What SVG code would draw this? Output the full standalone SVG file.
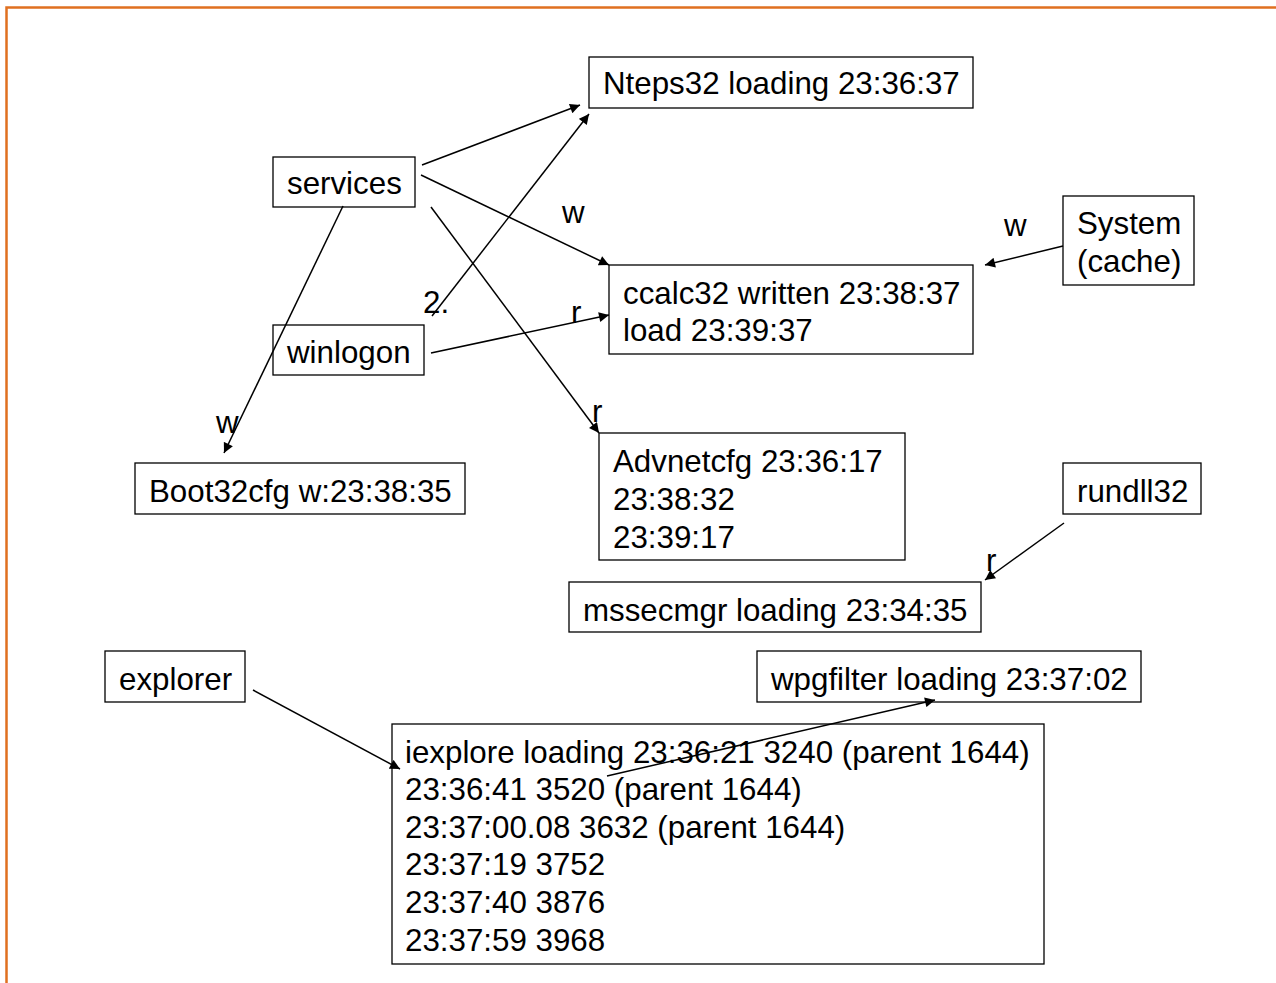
<svg xmlns="http://www.w3.org/2000/svg" width="1276" height="983" viewBox="0 0 1276 983">
<style>
  .box { fill: #fff; stroke: #000; stroke-width: 1.3; }
  .t { font-family: "Liberation Sans", Arial, sans-serif; font-size: 31.3px; fill: #000; }
  .c { stroke: #000; stroke-width: 1.5; fill: none; marker-end: url(#ah); }
</style>
<defs>
  <marker id="ah" viewBox="0 0 10 10" refX="10" refY="5" markerWidth="11" markerHeight="10" markerUnits="userSpaceOnUse" orient="auto">
    <path d="M0,0 L10,5 L0,10 z" fill="#000"/>
  </marker>
</defs>
<rect width="1276" height="983" fill="#fff"/>
<path d="M6.5,983 L6.5,7.5 L1276,7.5" fill="none" stroke="#E07020" stroke-width="2.5"/>

<g id="nteps32"><rect class="box" x="589" y="57" width="384" height="51"/><text class="t" x="603" y="94">Nteps32 loading 23:36:37</text></g>
<g id="services"><rect class="box" x="273" y="157" width="142" height="50"/><text class="t" x="287" y="194">services</text></g>
<g id="ccalc32"><rect class="box" x="609" y="265" width="364" height="89"/><text class="t" x="623" y="304">ccalc32 written 23:38:37</text><text class="t" x="623" y="341">load 23:39:37</text></g>
<g id="system"><rect class="box" x="1063" y="196" width="131" height="89"/><text class="t" x="1077" y="234">System</text><text class="t" x="1077" y="272">(cache)</text></g>
<g id="winlogon"><rect class="box" x="273" y="325" width="151" height="50"/><text class="t" x="287" y="363">winlogon</text></g>
<g id="boot32cfg"><rect class="box" x="135" y="463" width="330" height="51"/><text class="t" x="149" y="502">Boot32cfg w:23:38:35</text></g>
<g id="advnetcfg"><rect class="box" x="599" y="433" width="306" height="127"/><text class="t" x="613" y="472">Advnetcfg 23:36:17</text><text class="t" x="613" y="510">23:38:32</text><text class="t" x="613" y="548">23:39:17</text></g>
<g id="rundll32"><rect class="box" x="1063" y="463" width="138" height="51"/><text class="t" x="1077" y="502">rundll32</text></g>
<g id="mssecmgr"><rect class="box" x="569" y="582" width="412" height="50"/><text class="t" x="583" y="621">mssecmgr loading 23:34:35</text></g>
<g id="explorer"><rect class="box" x="105" y="651" width="140" height="51"/><text class="t" x="119" y="690">explorer</text></g>
<g id="wpgfilter"><rect class="box" x="757" y="651" width="384" height="51"/><text class="t" x="771" y="690">wpgfilter loading 23:37:02</text></g>
<g id="iexplore"><rect class="box" x="392" y="724" width="652" height="240"/>
<text class="t" x="405" y="763">iexplore loading 23:36:21 3240 (parent 1644)</text>
<text class="t" x="405" y="800">23:36:41 3520 (parent 1644)</text>
<text class="t" x="405" y="838">23:37:00.08 3632 (parent 1644)</text>
<text class="t" x="405" y="875">23:37:19 3752</text>
<text class="t" x="405" y="913">23:37:40 3876</text>
<text class="t" x="405" y="951">23:37:59 3968</text>
</g>

<g id="connectors">
  <line class="c" x1="422" y1="165" x2="580" y2="105"/>
  <line class="c" x1="432" y1="316" x2="589" y2="114"/>
  <line class="c" x1="421" y1="175" x2="609" y2="265"/>
  <line class="c" x1="431" y1="207" x2="599" y2="433"/>
  <line class="c" x1="343" y1="206" x2="224" y2="453"/>
  <line class="c" x1="431" y1="353" x2="609" y2="315"/>
  <line class="c" x1="1063" y1="246" x2="985" y2="265"/>
  <line class="c" x1="1064" y1="523" x2="985" y2="580"/>
  <line class="c" x1="253" y1="690" x2="400" y2="769"/>
  <line class="c" x1="607" y1="776" x2="935" y2="700"/>
  <text class="t" x="562" y="223">w</text>
  <text class="t" x="1004" y="236">w</text>
  <text class="t" x="423" y="313">2.</text>
  <text class="t" x="571" y="323">r</text>
  <text class="t" x="592" y="422">r</text>
  <text class="t" x="216" y="433">w</text>
  <text class="t" x="986" y="571">r</text>
</g>
</svg>
